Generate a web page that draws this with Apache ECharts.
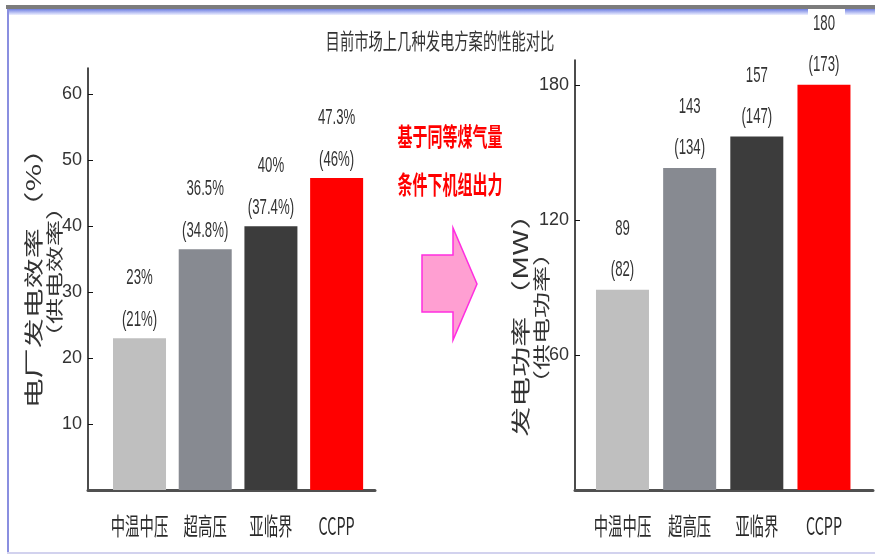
<!DOCTYPE html>
<html>
<head>
<meta charset="utf-8">
<script src="https://cdn.jsdelivr.net/npm/echarts@6/dist/echarts.min.js"></script>
<style>
  html, body { margin: 0; padding: 0; background: #fff; }
  #chart { width: 875px; height: 558px; }
</style>
</head>
<body>
<div id="chart"></div>
<script>
// Plant types compared in both panels
const categories = ['中温中压', '超高压', '亚临界', 'CCPP'];

// Plant efficiency (%) and, in brackets, supply efficiency (%)
const efficiency = [23, 36.5, 40, 47.3];
const supplyEfficiency = [21, 34.8, 37.4, 46];

// Generated power (MW) and, in brackets, supplied power (MW)
const power = [89, 143, 157, 180];
const supplyPower = [82, 134, 147, 173];

// Axis tick values
const effTicks = [10, 20, 30, 40, 50, 60];
const powerTicks = [60, 120, 180];

const barColors = ['#bfbfbf', '#878a91', '#3c3c3c', '#ff0000'];

const numFont = "'Liberation Sans', Arial, sans-serif";
const cjkFont = "'Noto Sans CJK SC', 'Noto Sans', sans-serif";
const narrow = 0.6; // horizontal compression of the lettering

function xAxisFor(gridIndex, min, max) {
  return {
    type: 'value', gridIndex, min, max,
    axisLine: { show: true, lineStyle: { color: '#505050', width: 3 } },
    axisTick: { show: false },
    splitLine: { show: false },
    axisLabel: { show: false }
  };
}

function yAxisFor(gridIndex, max, ticks) {
  return {
    type: 'value', gridIndex, min: 0, max,
    axisLine: { show: true, lineStyle: { color: '#111', width: 1.5 } },
    axisTick: { show: true, inside: true, length: 5, customValues: ticks, lineStyle: { color: '#111' } },
    splitLine: { show: false },
    axisLabel: { customValues: ticks, fontFamily: numFont, fontSize: 18, color: '#333', margin: 6 }
  };
}

function barSeries(axisIndex, values) {
  return {
    type: 'bar',
    xAxisIndex: axisIndex, yAxisIndex: axisIndex,
    barWidth: 53,
    data: values.map((v, i) => ({ value: [i + 1, v], itemStyle: { color: barColors[i] } }))
  };
}

// Condensed text: value labels above each bar and the category name under it
function labelSeries(axisIndex, values, upperText, lowerText, gaps) {
  const txt = (x, y, text, font, size, color) => ({
    type: 'text', x, y, scaleX: narrow,
    style: { text, fontFamily: font, fontSize: size, fill: color, align: 'center', verticalAlign: 'middle' }
  });
  return {
    type: 'custom',
    xAxisIndex: axisIndex, yAxisIndex: axisIndex,
    clip: false, silent: true, z: 5,
    data: values.map((v, i) => [i + 1, v]),
    renderItem: (params, api) => {
      const i = params.dataIndex;
      const top = api.coord([api.value(0), api.value(1)]);
      const base = api.coord([api.value(0), 0]);
      return {
        type: 'group',
        children: [
          txt(top[0], top[1] - gaps[1], upperText(i), numFont, 22, '#333'),
          txt(top[0], top[1] - gaps[0], lowerText(i), numFont, 22, '#333'),
          txt(base[0], base[1] + 36, categories[i], cjkFont, 24, '#2a2a2a')
        ]
      };
    }
  };
}

// Vertical axis title, reading bottom to top
function sideTitle(x, y, text, size) {
  return {
    type: 'text', x, y, rotation: Math.PI / 2, scaleY: 0.66,
    style: { text, fontFamily: cjkFont, fontSize: size,
             fill: '#333', align: 'center', verticalAlign: 'middle' }
  };
}

const chart = echarts.init(document.getElementById('chart'), null, { renderer: 'canvas' });

chart.setOption({
  backgroundColor: '#fff',
  animation: false,
  grid: [
    { left: 88, right: 500, top: 68, bottom: 68 },
    { left: 575, right: 2, top: 60, bottom: 68 }
  ],
  xAxis: [xAxisFor(0, 0.216, 4.584), xAxisFor(1, 0.293, 4.73)],
  yAxis: [yAxisFor(0, 64, effTicks), yAxisFor(1, 191, powerTicks)],
  series: [
    barSeries(0, efficiency),
    barSeries(1, power),
    labelSeries(0, efficiency, i => efficiency[i] + '%', i => '(' + supplyEfficiency[i] + '%)', [18, 60]),
    labelSeries(1, power, i => String(power[i]), i => '(' + supplyPower[i] + ')', [20, 61])
  ],
  graphic: [
    // slide frame
    { type: 'rect', shape: { x: 6, y: 5, width: 869, height: 4 }, style: { fill: '#7c7c7c' }, silent: true },
    { type: 'rect', shape: { x: 7, y: 9, width: 868, height: 6 },
      style: { fill: new echarts.graphic.LinearGradient(0, 0, 0, 1, [
        { offset: 0, color: '#6f7fe2' }, { offset: 1, color: '#eef0ff' }]) }, silent: true },
    { type: 'rect', shape: { x: 808, y: 9, width: 37, height: 6 }, style: { fill: '#fff' }, silent: true },
    { type: 'rect', shape: { x: 7, y: 9, width: 2, height: 545 }, style: { fill: '#8a8fe0' }, silent: true },
    { type: 'rect', shape: { x: 7, y: 552, width: 868, height: 2 }, style: { fill: '#d2d2ee' }, silent: true },
    // heading
    { type: 'text', x: 440, y: 41, scaleX: 0.65,
      style: { text: '目前市场上几种发电方案的性能对比', fontFamily: cjkFont, fontSize: 22,
               fill: '#333', align: 'center', verticalAlign: 'middle' } },
    // axis names
    sideTitle(33, 271, '电厂发电效率 （%）', 30),
    sideTitle(54, 272, '（供电效率）', 26),
    sideTitle(520, 318, '发电功率 （MW）', 30),
    sideTitle(541, 318, '（供电功率）', 26),
    // note between the panels
    { type: 'text', x: 450, y: 136, scaleX: narrow,
      style: { text: '基于同等煤气量', fontFamily: cjkFont, fontSize: 25, fontWeight: 'bold',
               fill: '#ff0000', align: 'center', verticalAlign: 'middle' } },
    { type: 'text', x: 450, y: 184, scaleX: narrow,
      style: { text: '条件下机组出力', fontFamily: cjkFont, fontSize: 25, fontWeight: 'bold',
               fill: '#ff0000', align: 'center', verticalAlign: 'middle' } },
    // arrow
    { type: 'polygon',
      shape: { points: [[422, 255], [453, 255], [453, 228], [477, 284], [453, 340], [453, 312], [422, 312]] },
      style: { fill: '#ff9fd2', stroke: '#ff2ee0', lineWidth: 1.5 } }
  ]
});
</script>
</body>
</html>
